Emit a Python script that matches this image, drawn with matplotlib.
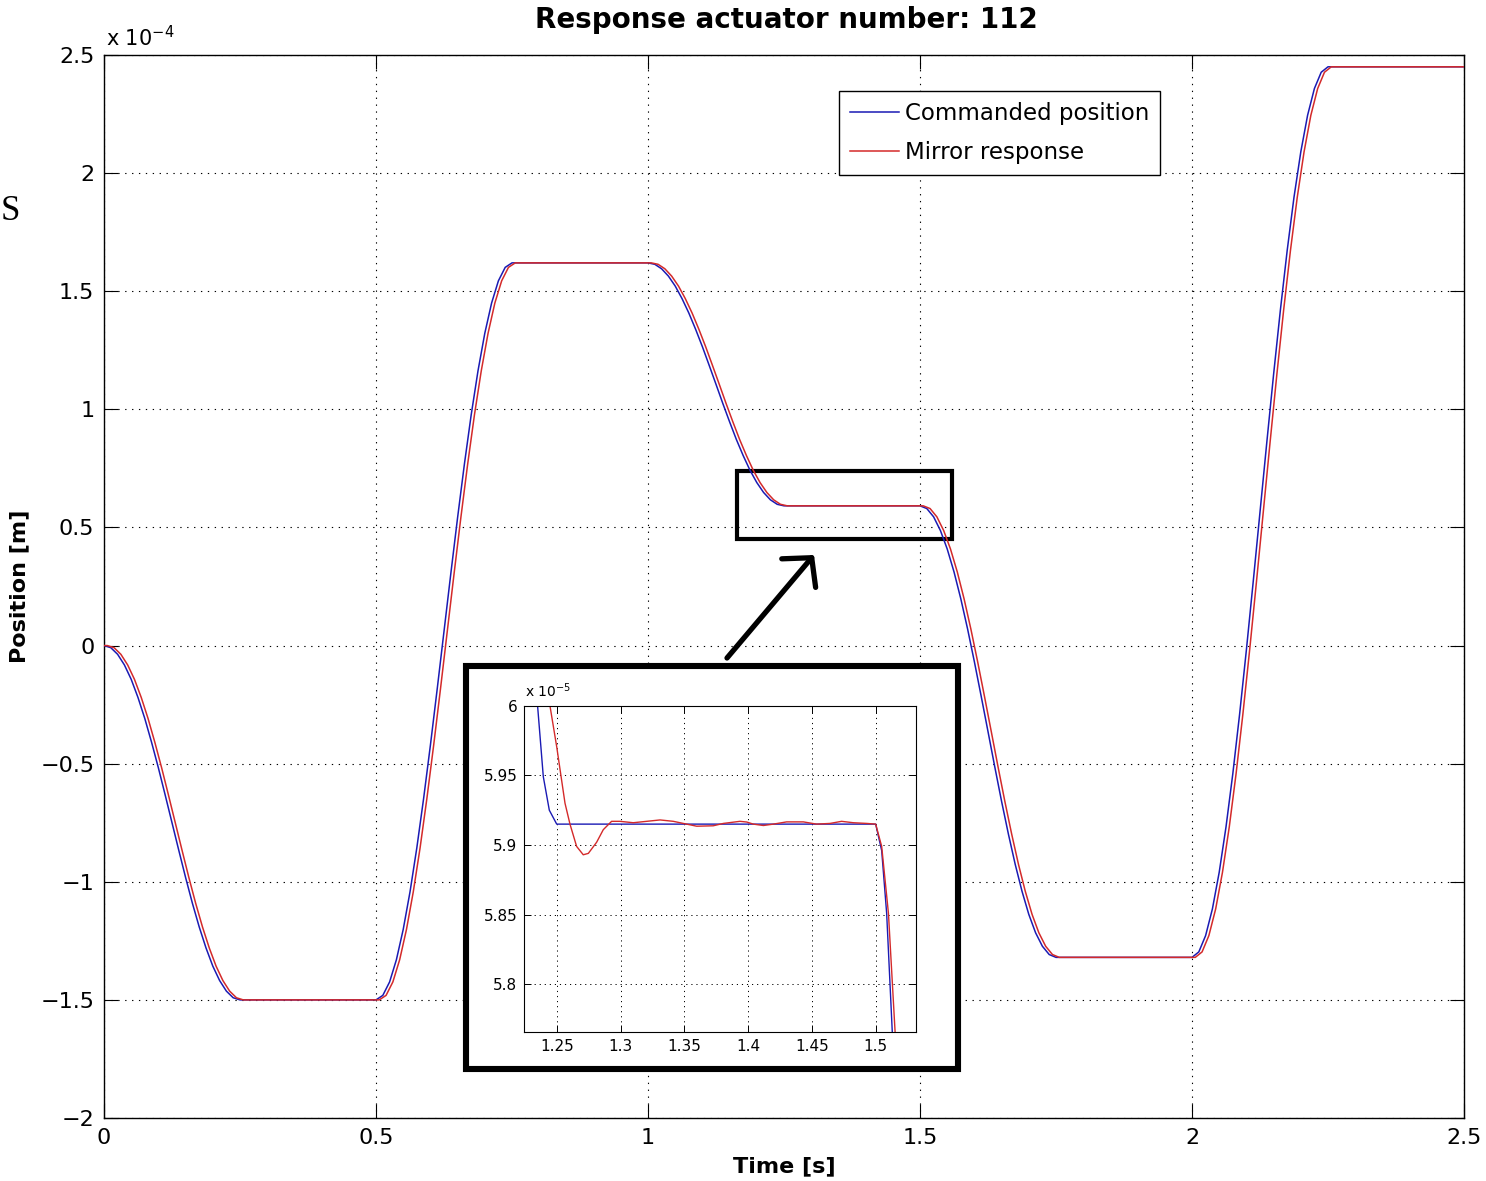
import matplotlib
matplotlib.use("Agg")
import matplotlib.pyplot as plt
from matplotlib.patches import Rectangle, FancyArrowPatch

plt.rcParams["font.family"] = ["DejaVu Sans"]
plt.rcParams["mathtext.default"] = "regular"

# ── DATA ─────────────────────────────────────────────────────
# main plot, position in units of 1e-4 m
move_dt   = [0.0, 0.0125, 0.025, 0.0375, 0.05, 0.0625, 0.075, 0.0875, 0.1, 0.1125,
             0.125, 0.1375, 0.15, 0.1625, 0.175, 0.1875, 0.2, 0.2125, 0.225, 0.2375, 0.25]
cmd_start = [0.0, 0.5, 1.0, 1.5, 2.0]
mir_start = [0.006, 0.506, 1.006, 1.506, 2.006]
t_end     = 2.5

move_1 = [0.0, -0.009, -0.037, -0.082, -0.143, -0.220, -0.309, -0.410, -0.518, -0.633,
          -0.750, -0.867, -0.982, -1.091, -1.191, -1.280, -1.357, -1.418, -1.463, -1.491, -1.5]
move_2 = [-1.5, -1.481, -1.424, -1.330, -1.202, -1.043, -0.857, -0.648, -0.422, -0.184,
          0.060, 0.304, 0.542, 0.768, 0.977, 1.163, 1.322, 1.450, 1.544, 1.601, 1.62]
move_3 = [1.620, 1.614, 1.595, 1.564, 1.522, 1.469, 1.408, 1.339, 1.265, 1.186,
          1.106, 1.025, 0.947, 0.872, 0.804, 0.742, 0.690, 0.648, 0.617, 0.598, 0.5915]
move_4 = [0.5915, 0.580, 0.545, 0.487, 0.409, 0.312, 0.198, 0.070, -0.069, -0.215,
          -0.364, -0.514, -0.660, -0.798, -0.926, -1.040, -1.138, -1.216, -1.273, -1.308, -1.320]
move_5 = [-1.320, -1.297, -1.228, -1.115, -0.960, -0.768, -0.543, -0.291, -0.018, 0.270,
          0.565, 0.860, 1.148, 1.421, 1.673, 1.898, 2.090, 2.245, 2.358, 2.427, 2.450]
moves = [move_1, move_2, move_3, move_4, move_5]

x_ticks      = [0, 0.5, 1, 1.5, 2, 2.5]
x_ticklabels = ["0", "0.5", "1", "1.5", "2", "2.5"]
y_ticks      = [-2, -1.5, -1, -0.5, 0, 0.5, 1, 1.5, 2, 2.5]
y_ticklabels = ["\u22122", "\u22121.5", "\u22121", "\u22120.5", "0", "0.5", "1", "1.5", "2", "2.5"]

# inset (zoom on the 1.25 .. 1.5 s plateau), units of 1e-5 m
ins_t_cmd = [1.232, 1.235, 1.2395, 1.2442, 1.25, 1.5, 1.5047, 1.5086, 1.513, 1.514]
ins_cmd   = [6.08, 6.0, 5.949, 5.925, 5.915, 5.915, 5.896, 5.851, 5.766, 5.74]
ins_t_mir = [1.242, 1.2447, 1.25, 1.2565, 1.2604, 1.2656, 1.2708, 1.2748, 1.2813, 1.2865,
             1.293, 1.2996, 1.31, 1.3205, 1.331, 1.3414, 1.3518, 1.3597, 1.3727, 1.3806,
             1.3936, 1.3989, 1.4041, 1.412, 1.4198, 1.4302, 1.4433, 1.4537, 1.4642, 1.4733,
             1.4825, 1.493, 1.5, 1.5047, 1.51, 1.5152, 1.516]
ins_mir   = [6.08, 6.0, 5.9705, 5.930, 5.915, 5.899, 5.893, 5.894, 5.902, 5.911,
             5.917, 5.917, 5.916, 5.917, 5.918, 5.917, 5.915, 5.9135, 5.9138, 5.9155,
             5.917, 5.9165, 5.915, 5.914, 5.915, 5.9166, 5.9166, 5.915, 5.9155, 5.917,
             5.916, 5.9155, 5.915, 5.899, 5.851, 5.766, 5.74]
ins_x_ticks      = [1.25, 1.3, 1.35, 1.4, 1.45, 1.5]
ins_x_ticklabels = ["1.25", "1.3", "1.35", "1.4", "1.45", "1.5"]
ins_y_ticks      = [5.8, 5.85, 5.9, 5.95, 6.0]
ins_y_ticklabels = ["5.8", "5.85", "5.9", "5.95", "6"]


def build(starts):
    t, y = [0.0], [0.0]
    for s, mv in zip(starts, moves):
        t += [s + d for d in move_dt]
        y += mv
    t.append(t_end)
    y.append(moves[-1][-1])
    return t, y


t_cmd, pos_cmd = build(cmd_start)
t_mir, pos_mir = build(mir_start)

BLUE = "#1a1ab4"
RED  = "#d42a2a"
W, H = 1486, 1181


def fx(px):
    return px / W


def fy(py):
    return 1 - py / H


grid_kw = dict(color="black", linestyle=(0, (1.2, 5)), linewidth=0.8)

# ── MAIN AXES ───────────────────────────────────────────────
fig = plt.figure(figsize=(W / 100, H / 100), dpi=100)
ax = fig.add_axes([fx(104), fy(1118), fx(1464) - fx(104), fy(55) - fy(1118)])

ax.add_patch(Rectangle((1.1636, 0.453), 1.5588 - 1.1636, 0.741 - 0.453,
                       fill=False, edgecolor="black", linewidth=3.0, zorder=2))
ax.plot(t_cmd, pos_cmd, color=BLUE, lw=1.1, label="Commanded position", zorder=3)
ax.plot(t_mir, pos_mir, color=RED, lw=1.1, label="Mirror response", zorder=3)

ax.set_xlim(0, 2.5)
ax.set_ylim(-2, 2.5)
ax.set_xticks(x_ticks, x_ticklabels)
ax.set_yticks(y_ticks, y_ticklabels)
ax.tick_params(direction="in", length=10, width=0.8, top=True, right=True,
               labelsize=16, pad=7)
ax.grid(True, **grid_kw)
for sp in ax.spines.values():
    sp.set_linewidth(1.0)
ax.set_xlabel("Time [s]", fontsize=16, fontweight="bold", labelpad=6)
ax.set_ylabel("Position [m]", fontsize=16, fontweight="bold", labelpad=8)

leg = ax.legend(loc="upper left", bbox_to_anchor=(fx(839), fy(91)),
                bbox_transform=fig.transFigure, borderaxespad=0, fancybox=False,
                framealpha=1, edgecolor="black", fontsize=16.5, handlelength=2.15,
                handletextpad=0.25, borderpad=0.48, labelspacing=0.68)
leg.get_frame().set_linewidth(1.0)

fig.text(fx(786), fy(20), "Response actuator number: 112", ha="center", va="center",
         fontsize=20, fontweight="bold")
fig.text(fx(106), fy(46), r"x 10$^{-4}$", fontsize=15, va="baseline")
fig.text(fx(1), fy(220), "S", fontsize=25, family="Liberation Serif", va="baseline")

# ── ARROW + INSET FRAME ─────────────────────────────────────
arrow = FancyArrowPatch((fx(727), fy(658)), (fx(814), fy(555)),
                        transform=fig.transFigure,
                        arrowstyle="->,head_length=1.0,head_width=1.1",
                        mutation_scale=14.5, linewidth=3.8, color="black",
                        shrinkA=0, shrinkB=0)
fig.add_artist(arrow)
fig.add_artist(Rectangle((fx(466.3), fy(1068.8)), fx(957.8) - fx(466.3),
                         fy(666.3) - fy(1068.8), transform=fig.transFigure,
                         facecolor="white", edgecolor="black", linewidth=4.4))

# ── INSET AXES ──────────────────────────────────────────────
ia = fig.add_axes([fx(524.3), fy(1031.7), fx(916) - fx(524.3), fy(705.7) - fy(1031.7)])
ia.set_zorder(3)
ia.plot(ins_t_cmd, ins_cmd, color=BLUE, lw=1.0)
ia.plot(ins_t_mir, ins_mir, color=RED, lw=1.0)
ia.set_xlim(1.2246, 1.5316)
ia.set_ylim(5.766, 6.0)
ia.set_xticks(ins_x_ticks, ins_x_ticklabels)
ia.set_yticks(ins_y_ticks, ins_y_ticklabels)
ia.tick_params(direction="in", length=5, width=0.7, top=True, right=True,
               labelsize=11, pad=5)
ia.grid(True, color="black", linestyle=(0, (1.2, 4)), linewidth=0.7)
for sp in ia.spines.values():
    sp.set_linewidth(0.8)
fig.text(fx(525), fy(697), r"x 10$^{-5}$", fontsize=10, va="baseline")

fig.savefig("out.png", dpi=100)
